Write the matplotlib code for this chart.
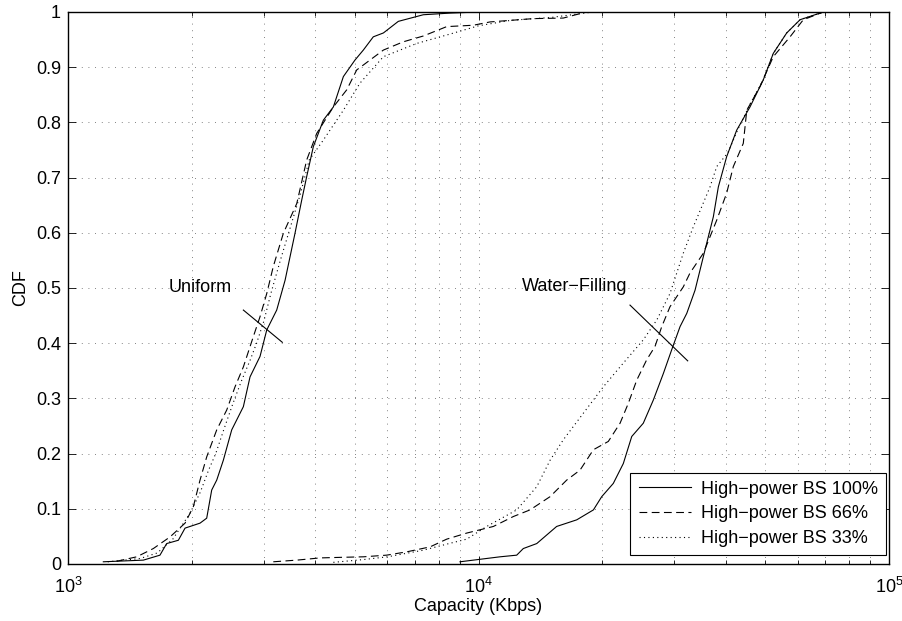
import matplotlib
matplotlib.use("Agg")
import matplotlib.pyplot as plt
from matplotlib.ticker import LogLocator, FixedLocator, FixedFormatter, NullFormatter

plt.rcParams['font.family'] = ['Liberation Sans', 'DejaVu Sans']
plt.rcParams['font.size'] = 13
plt.rcParams['mathtext.fontset'] = 'custom'
plt.rcParams['mathtext.rm'] = 'Liberation Sans'
plt.rcParams['mathtext.it'] = 'Liberation Sans'

# Uniform power allocation
u100_x = [1219, 1526, 1675, 1739, 1857, 1928, 2097, 2177, 2239, 2303, 2390, 2505, 2674, 2776,
          2936, 3049, 3224, 3379, 3572, 3709, 3815, 3959, 4188, 4430, 4686, 5002, 5241, 5542,
          5865, 6377, 7337, 8524, 10000]
u100_y = [0.004, 0.007, 0.016, 0.037, 0.043, 0.065, 0.074, 0.083, 0.134, 0.152, 0.188, 0.243,
          0.285, 0.339, 0.376, 0.424, 0.46, 0.514, 0.599, 0.659, 0.702, 0.756, 0.804, 0.828,
          0.883, 0.913, 0.931, 0.955, 0.962, 0.983, 0.995, 0.998, 1.0]

u66_x = [1314, 1470, 1614, 1772, 1928, 2020, 2097, 2177, 2303, 2436, 2552, 2674, 2828, 2936,
         3049, 3163, 3346, 3608, 3815, 4035, 4430, 4775, 5050, 5865, 6560, 7337, 8366, 9712,
         10670, 13600, 16090, 18300]
u66_y = [0.005, 0.013, 0.028, 0.049, 0.074, 0.104, 0.152, 0.194, 0.243, 0.279, 0.321, 0.357,
         0.412, 0.448, 0.490, 0.539, 0.599, 0.653, 0.732, 0.78, 0.828, 0.859, 0.895, 0.931,
         0.946, 0.9565, 0.9735, 0.976, 0.982, 0.988, 0.989, 1.0]

u33_x = [1250, 1500, 1650, 1800, 1983, 2100, 2200, 2290, 2400, 2520, 2640, 2780, 2880, 3000,
         3120, 3290, 3480, 3680, 3870, 4188, 4686, 5142, 5865, 7070, 8524, 10000, 12000,
         15000, 19000]
u33_y = [0.004, 0.01, 0.02, 0.045, 0.092, 0.13, 0.17, 0.2, 0.245, 0.29, 0.33, 0.37, 0.4, 0.44,
         0.49, 0.55, 0.61, 0.67, 0.732, 0.768, 0.822, 0.871, 0.919, 0.943, 0.96, 0.975, 0.985,
         0.99, 1.0]

# Water-filling power allocation
w100_x = [9014, 11280, 12390, 12857, 13863, 15500, 17350, 19050, 19960, 21300, 22530, 23620,
          25200, 26660, 28200, 29550, 30970, 32160, 33690, 35300, 37330, 38390, 40230, 42560,
          45850, 49400, 52250, 56330, 60720, 69180]
w100_y = [0.004, 0.013, 0.016, 0.028, 0.037, 0.068, 0.08, 0.098, 0.122, 0.146, 0.182, 0.231,
          0.255, 0.297, 0.345, 0.388, 0.43, 0.454, 0.496, 0.557, 0.629, 0.683, 0.738, 0.786,
          0.828, 0.877, 0.925, 0.962, 0.986, 1.0]

w66_x = [3163, 3608, 4110, 4598, 5241, 5970, 6686, 7620, 8366, 9360, 10870, 12160, 13350,
         14940, 16400, 17670, 19050, 20710, 22120, 23170, 24290, 25690, 26910, 27950, 29270,
         31540, 32740, 35300, 38050, 40230, 41760, 44160, 45030, 48500, 52250, 57400, 61840,
         69180]
w66_y = [0.004, 0.007, 0.011, 0.012, 0.013, 0.016, 0.022, 0.031, 0.045, 0.056, 0.068, 0.086,
         0.098, 0.122, 0.152, 0.17, 0.207, 0.222, 0.255, 0.291, 0.333, 0.37, 0.394, 0.43,
         0.466, 0.502, 0.527, 0.563, 0.623, 0.672, 0.72, 0.762, 0.822, 0.865, 0.919, 0.955,
         0.986, 1.0]

w33_x = [4430, 5241, 6000, 7337, 8524, 9360, 10470, 12390, 13863, 14940, 16090, 18000, 20140,
         22530, 25200, 27180, 29270, 30400, 31540, 33370, 36640, 38050, 40500, 43000, 46000,
         49400, 52250, 56330, 60720, 69180]
w33_y = [0.003, 0.008, 0.013, 0.025, 0.0375, 0.045, 0.068, 0.098, 0.14, 0.188, 0.225, 0.273,
         0.321, 0.364, 0.406, 0.442, 0.49, 0.527, 0.563, 0.611, 0.683, 0.72, 0.745, 0.79,
         0.835, 0.877, 0.925, 0.962, 0.986, 1.0]

labels = ['High\u2212power BS 100%', 'High\u2212power BS 66%', 'High\u2212power BS 33%']
y_ticks = [0, 0.1, 0.2, 0.3, 0.4, 0.5, 0.6, 0.7, 0.8, 0.9, 1]
y_ticklabels = ['0', '0.1', '0.2', '0.3', '0.4', '0.5', '0.6', '0.7', '0.8', '0.9', '1']

fig = plt.figure(figsize=(9.02, 6.21), dpi=100)
ax = fig.add_axes([0.0754, 0.0918, 0.9102, 0.8889])

lw = 0.8
ax.plot(u100_x, u100_y, 'k-', lw=lw, label=labels[0])
ax.plot(u66_x, u66_y, 'k--', lw=lw, dashes=(7, 4), label=labels[1])
ax.plot(u33_x, u33_y, 'k:', lw=lw, dashes=(1, 3), label=labels[2])
ax.plot(w100_x, w100_y, 'k-', lw=lw)
ax.plot(w66_x, w66_y, 'k--', lw=lw, dashes=(7, 4))
ax.plot(w33_x, w33_y, 'k:', lw=lw, dashes=(1, 3))

ax.set_xscale('log')
ax.set_xlim(1e3, 1e5)
ax.set_ylim(0, 1)
ax.yaxis.set_major_locator(FixedLocator(y_ticks))
ax.yaxis.set_major_formatter(FixedFormatter(y_ticklabels))
ax.xaxis.set_major_locator(LogLocator(base=10, numticks=10))
ax.xaxis.set_minor_locator(LogLocator(base=10, subs=range(2, 10), numticks=10))
ax.xaxis.set_minor_formatter(NullFormatter())

ax.grid(True, which='both', axis='x', color='0.35', linestyle=(0, (1, 7)), lw=0.6)
ax.grid(True, which='major', axis='y', color='0.35', linestyle=(0, (1, 7)), lw=0.6)

ax.tick_params(which='both', direction='in', top=True, right=True, labelsize=13)
ax.tick_params(axis='x', which='major', pad=9)
ax.tick_params(axis='y', which='major', pad=5)
ax.tick_params(which='major', length=6, width=0.6)
ax.tick_params(which='minor', length=3, width=0.6)
for s in ax.spines.values():
    s.set_linewidth(1.0)

ax.set_xlabel('Capacity (Kbps)', labelpad=1)
ax.set_ylabel('CDF', labelpad=5)

# annotations
ax.text(2097, 0.501, 'Uniform', ha='center', va='center', fontsize=13)
ax.plot([2674, 3327], [0.46, 0.4016], 'k-', lw=0.8)
ax.text(17180, 0.502, 'Water\u2212Filling', ha='center', va='center', fontsize=13)
ax.plot([23390, 32330], [0.469, 0.368], 'k-', lw=0.8)

leg = ax.legend(loc='lower right', bbox_to_anchor=(0.9963, 0.0163), fancybox=False,
                framealpha=1, edgecolor='k', handlelength=2.9, handletextpad=0.55,
                borderaxespad=0, fontsize=13, borderpad=0.45, labelspacing=0.42)
leg.get_frame().set_linewidth(0.8)

fig.savefig('out.png', dpi=100)
